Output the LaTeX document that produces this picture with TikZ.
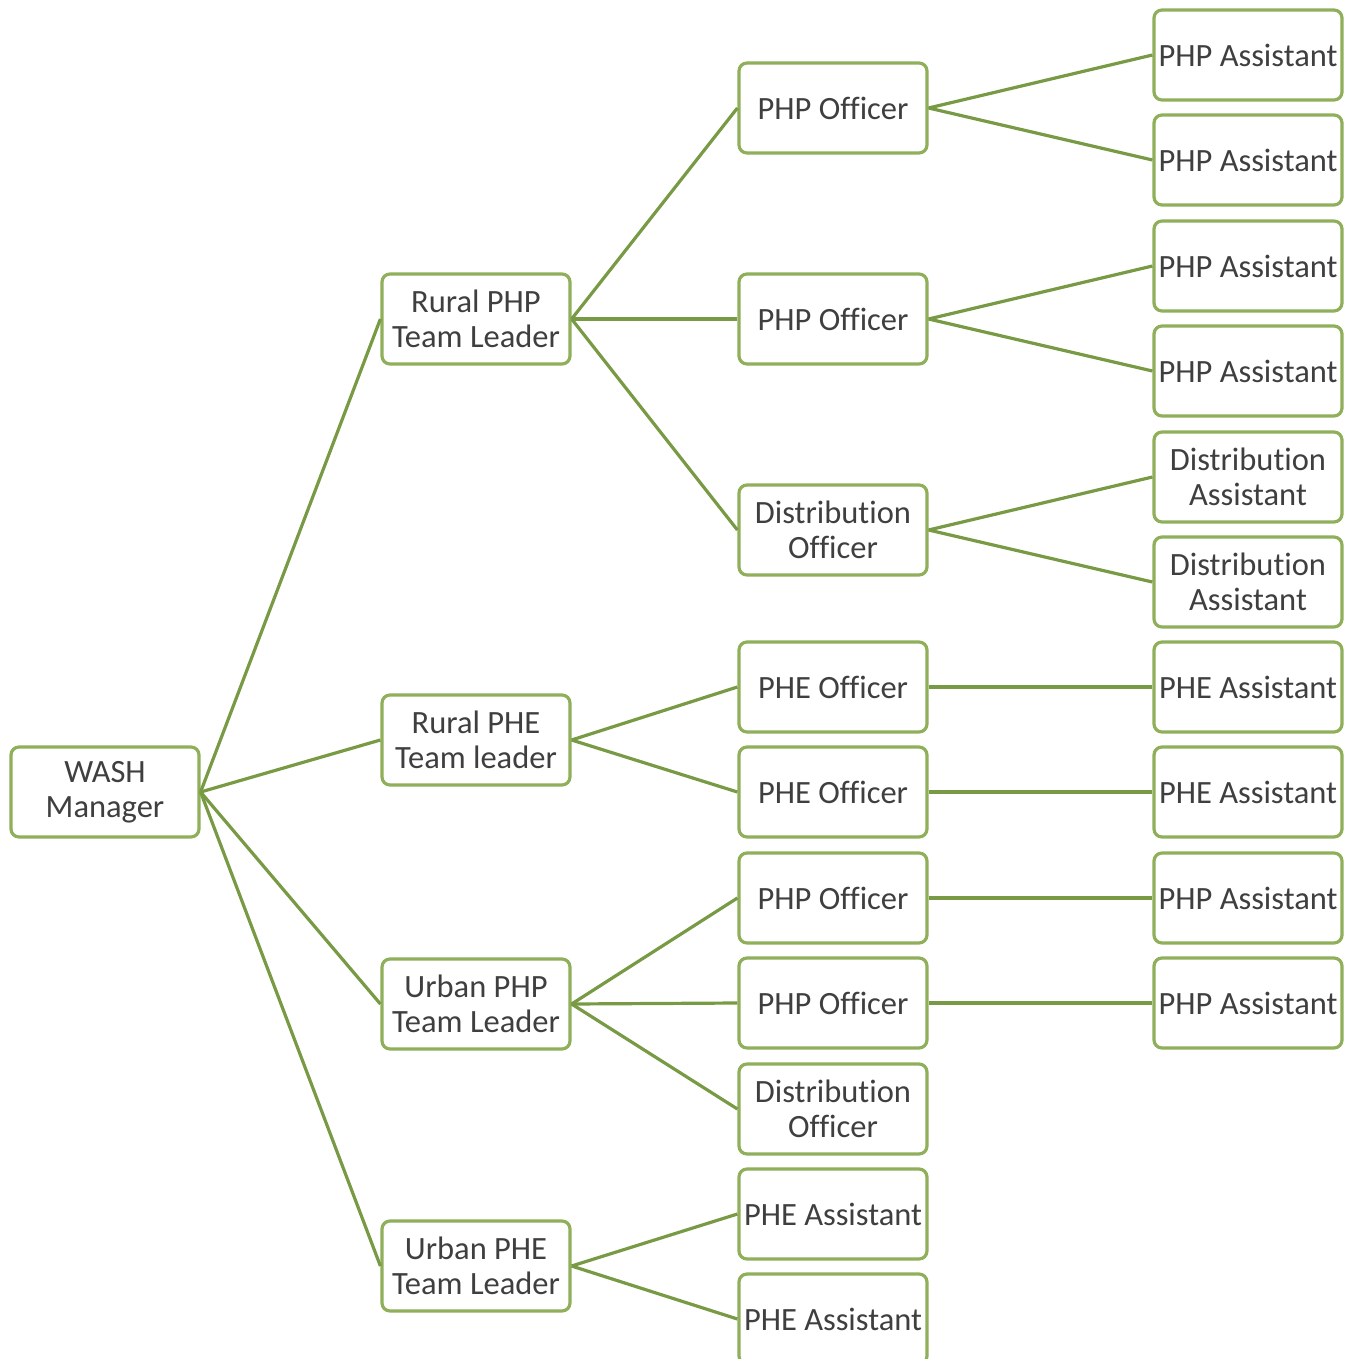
\documentclass[tikz,border=0pt]{standalone}
\usepackage{fontspec}
\setmainfont{Carlito}[RawFeature={-liga}]
\definecolor{boxgreen}{HTML}{8FAF5A}
\definecolor{linegreen}{HTML}{789A45}
\definecolor{txtgray}{HTML}{3F3F3F}
\begin{document}
\begin{tikzpicture}[x=1pt,y=-1pt,
  box/.style={draw=boxgreen,line width=3.2pt,rounded corners=8pt,fill=white,
    minimum width=188pt,minimum height=90pt,inner sep=0pt,align=center,
    text=txtgray,font=\fontsize{32.5}{35}\selectfont},
  link/.style={draw=linegreen,line width=3.2pt}]
\useasboundingbox (0,0) rectangle (1348,1359);
\clip (0,0) rectangle (1348,1359);
% column 1
\node[box] (wash) at (105,792) {WASH\\Manager};
% column 2
\node[box] (rphp) at (476,319) {Rural PHP\\Team Leader};
\node[box] (rphe) at (476,740) {Rural PHE\\Team leader};
\node[box] (uphp) at (476,1004) {Urban PHP\\Team Leader};
\node[box] (uphe) at (476,1266) {Urban PHE\\Team Leader};
% column 3
\node[box] (o1) at (833,108) {PHP Officer};
\node[box] (o2) at (833,319) {PHP Officer};
\node[box] (o3) at (833,530) {Distribution\\Officer};
\node[box] (o4) at (833,687) {PHE Officer};
\node[box] (o5) at (833,792) {PHE Officer};
\node[box] (o6) at (833,898) {PHP Officer};
\node[box] (o7) at (833,1003) {PHP Officer};
\node[box] (o8) at (833,1109) {Distribution\\Officer};
\node[box] (o9) at (833,1214) {PHE Assistant};
\node[box] (o10) at (833,1319) {PHE Assistant};
% column 4
\node[box] (a1) at (1248,55) {PHP Assistant};
\node[box] (a2) at (1248,160) {PHP Assistant};
\node[box] (a3) at (1248,266) {PHP Assistant};
\node[box] (a4) at (1248,371) {PHP Assistant};
\node[box] (a5) at (1248,477) {Distribution\\Assistant};
\node[box] (a6) at (1248,582) {Distribution\\Assistant};
\node[box] (a7) at (1248,687) {PHE Assistant};
\node[box] (a8) at (1248,792) {PHE Assistant};
\node[box] (a9) at (1248,898) {PHP Assistant};
\node[box] (a10) at (1248,1003) {PHP Assistant};
% connectors
\foreach \c in {rphp,rphe,uphp,uphe} \draw[link] (wash.east) -- (\c.west);
\foreach \c in {o1,o2,o3} \draw[link] (rphp.east) -- (\c.west);
\foreach \c in {o4,o5} \draw[link] (rphe.east) -- (\c.west);
\foreach \c in {o6,o7,o8} \draw[link] (uphp.east) -- (\c.west);
\foreach \c in {o9,o10} \draw[link] (uphe.east) -- (\c.west);
\foreach \c in {a1,a2} \draw[link] (o1.east) -- (\c.west);
\foreach \c in {a3,a4} \draw[link] (o2.east) -- (\c.west);
\foreach \c in {a5,a6} \draw[link] (o3.east) -- (\c.west);
\draw[link] (o4.east) -- (a7.west);
\draw[link] (o5.east) -- (a8.west);
\draw[link] (o6.east) -- (a9.west);
\draw[link] (o7.east) -- (a10.west);
\end{tikzpicture}
\end{document}
